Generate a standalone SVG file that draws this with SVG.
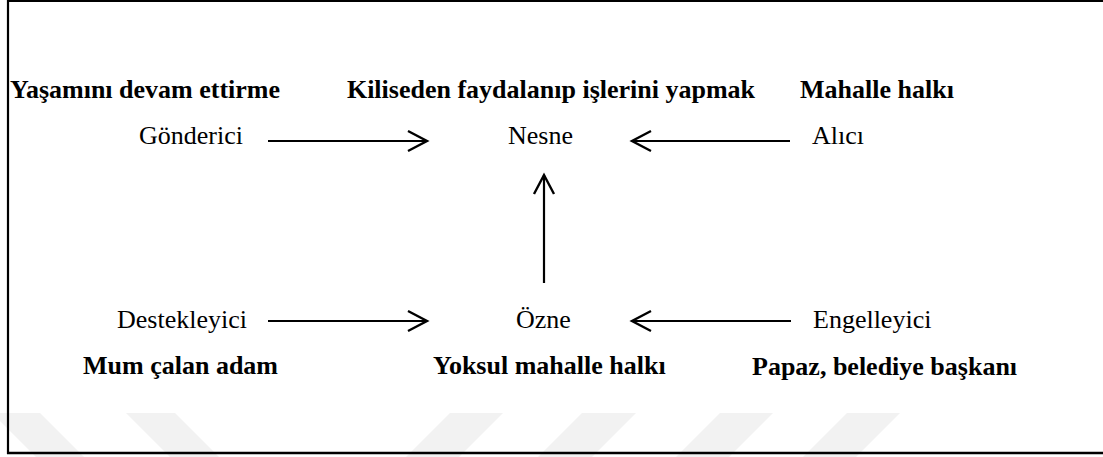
<svg xmlns="http://www.w3.org/2000/svg" width="1103" height="457" viewBox="0 0 1103 457">
<style>
.r{font-family:"Liberation Serif","Times New Roman",serif;font-size:26px;fill:#000}
.b{font-family:"Liberation Serif","Times New Roman",serif;font-size:26px;font-weight:bold;fill:#000}
.c{stroke:#000;stroke-width:2.2;fill:none}
.wm{fill:#f2f2f2}
</style>
<defs>
<marker id="ah" markerUnits="userSpaceOnUse" markerWidth="30" markerHeight="30" viewBox="-25 -15 30 30" refX="0" refY="0" orient="auto">
<path d="M-19,-10 L0,0 L-19,10" fill="none" stroke="#000" stroke-width="2.4"/>
</marker>
</defs>
<rect width="1103" height="457" fill="#fff"/>
<g id="watermark">
<polygon class="wm" points="-8,413 40,413 84,457 36,457"/>
<polygon class="wm" points="126,413 175,413 219,457 170,457"/>
<polygon class="wm" points="450,413 503,413 459,457 406,457"/>
<polygon class="wm" points="582,413 636,413 592,457 538,457"/>
<polygon class="wm" points="720,413 773,413 729,457 676,457"/>
<polygon class="wm" points="847,413 900,413 856,457 803,457"/>
</g>
<g id="frame" stroke="#000" fill="none">
<line x1="8" y1="0" x2="8" y2="454" stroke-width="2.2"/>
<line x1="7" y1="1" x2="1103" y2="1" stroke-width="2.2"/>
<line x1="7" y1="453" x2="1103" y2="453" stroke-width="2.6"/>
</g>
<g id="connectors">
<line class="c" x1="268" y1="141" x2="427" y2="141" marker-end="url(#ah)"/>
<line class="c" x1="790" y1="141" x2="632" y2="141" marker-end="url(#ah)"/>
<line class="c" x1="544" y1="283" x2="544" y2="175" marker-end="url(#ah)"/>
<line class="c" x1="268" y1="321" x2="427" y2="321" marker-end="url(#ah)"/>
<line class="c" x1="791" y1="321" x2="632" y2="321" marker-end="url(#ah)"/>
</g>
<g id="node-gonderici">
<text class="b" x="10" y="98">Yaşamını devam ettirme</text>
<text class="r" x="139" y="144">Gönderici</text>
</g>
<g id="node-nesne">
<text class="b" x="551" y="98" text-anchor="middle">Kiliseden faydalanıp işlerini yapmak</text>
<text class="r" x="508" y="144">Nesne</text>
</g>
<g id="node-alici">
<text class="b" x="800" y="98">Mahalle halkı</text>
<text class="r" x="812" y="144">Alıcı</text>
</g>
<g id="node-destekleyici">
<text class="r" x="117" y="328">Destekleyici</text>
<text class="b" x="83" y="374">Mum çalan adam</text>
</g>
<g id="node-ozne">
<text class="r" x="516" y="328">Özne</text>
<text class="b" x="433" y="374">Yoksul mahalle halkı</text>
</g>
<g id="node-engelleyici">
<text class="r" x="813" y="328">Engelleyici</text>
<text class="b" x="752" y="375">Papaz, belediye başkanı</text>
</g>
</svg>
